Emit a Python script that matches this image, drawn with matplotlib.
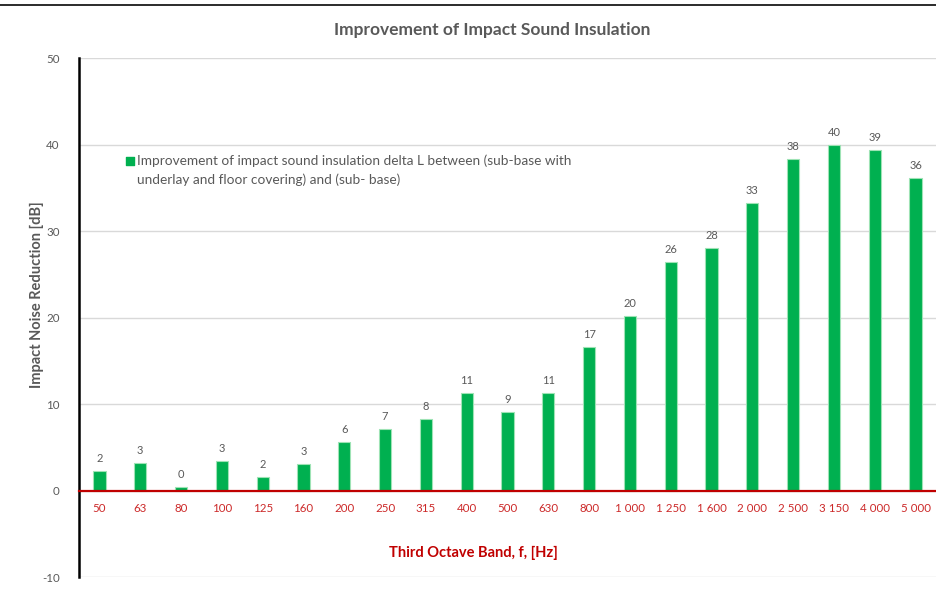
# Impact sound insulation improvement per third octave band

import numpy as np
import matplotlib
matplotlib.use('Agg')
import matplotlib.pyplot as plt
from matplotlib.lines import Line2D

plt.rcParams['font.family'] = ['Lato', 'DejaVu Sans']
plt.rcParams['axes.unicode_minus'] = False

# data
bands = ['50', '63', '80', '100', '125', '160', '200', '250', '315', '400',
         '500', '630', '800', '1 000', '1 250', '1 600', '2 000', '2 500',
         '3 150', '4 000', '5 000']
delta_l = [2.3, 3.2, 0.45, 3.4, 1.6, 3.1, 5.6, 7.1, 8.3, 11.3,
           9.1, 11.3, 16.6, 20.2, 26.4, 28.0, 33.2, 38.3, 39.9, 39.4, 36.1]
series_name = ('Improvement of impact sound insulation delta L between (sub-base with\n'
               'underlay and floor covering) and (sub- base)')
title = 'Improvement of Impact Sound Insulation'
xlabel = 'Third Octave Band, f, [Hz]'
ylabel = 'Impact Noise Reduction [dB]'

grey = '#595959'
green = '#00B050'
red = '#C00000'

fig = plt.figure(figsize=(9.36, 6.07), dpi=100)
ax = fig.add_axes([0.0844, 0.0494, 0.9156, 0.855])

x = np.arange(len(bands))
ax.bar(x, delta_l, width=0.3, color=green, edgecolor='#9EE3B5',
       linewidth=0.8, zorder=3)
for xi, v in zip(x, delta_l):
    ax.annotate('{:.0f}'.format(v), (xi, v), xytext=(0, 5),
                textcoords='offset points', ha='center', va='bottom',
                fontsize=8, color=grey)

ax.set_xlim(-0.5, len(bands) - 0.5)
ax.set_ylim(-10, 50)
ax.set_yticks(np.arange(-10, 51, 10))
ax.yaxis.grid(True, color='#D9D9D9', linewidth=1.0, zorder=0)
ax.set_axisbelow(True)

# axes styling
ax.spines['top'].set_visible(False)
ax.spines['right'].set_visible(False)
ax.spines['left'].set_color('black')
ax.spines['left'].set_linewidth(1.8)
ax.spines['bottom'].set_position(('data', 0))
ax.spines['bottom'].set_color(red)
ax.spines['bottom'].set_linewidth(1.6)
ax.spines['bottom'].set_zorder(4)

ax.set_xticks(x)
ax.set_xticklabels(bands)
ax.tick_params(axis='x', length=0, pad=9, labelsize=8.3, labelcolor='#CC2929')
ax.tick_params(axis='y', length=0, pad=14, labelsize=8.3, labelcolor=grey)

ax.set_xlabel(xlabel, fontsize=10.5, fontweight='bold', color=red)
ax.xaxis.set_label_coords(0.46, 0.046)
ax.xaxis.label.set_va('center')
ax.set_ylabel(ylabel, fontsize=10.5, fontweight='bold', color=grey)
ax.yaxis.set_label_coords(-0.049, 0.545)
ax.yaxis.label.set_va('center')

# legend drawn by hand so the marker sits on the first line
ax.scatter([0.0595], [0.8015], marker='s', s=30, color=green,
           transform=ax.transAxes, clip_on=False, zorder=5)
ax.text(0.0677, 0.8145, series_name, transform=ax.transAxes, ha='left',
        va='top', fontsize=9.8, color=grey, linespacing=1.6)

fig.text(0.526, 0.951, title, ha='center', va='center', fontsize=12.5,
         fontweight='bold', color=grey)
fig.add_artist(Line2D([0, 1], [0.991, 0.991], transform=fig.transFigure,
                      color='#2b2b2b', linewidth=1.4))

fig.savefig('out.png', dpi=100)
